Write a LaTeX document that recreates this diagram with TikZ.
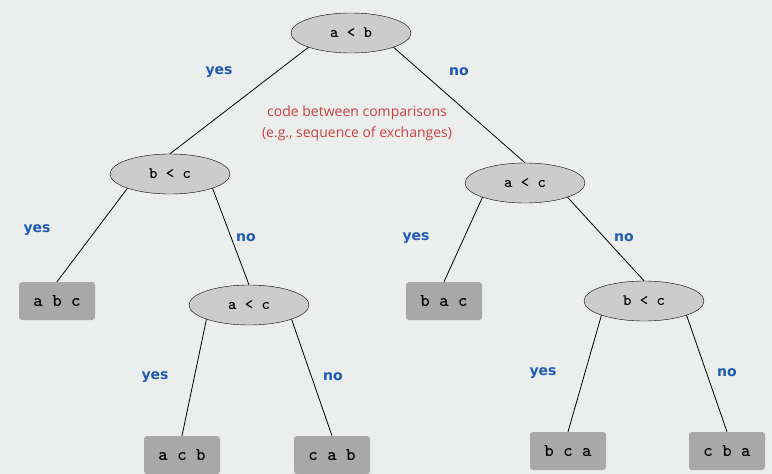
\documentclass[tikz,border=0pt]{standalone}
\usepackage{fontspec}
\newfontfamily\keyfont{lmmonolt10-bold.otf}
\newfontfamily\yesnofont{DejaVu Sans}
\newfontfamily\notefont{Open Sans}
\usepackage{tikz}
\usetikzlibrary{calc}
\usetikzlibrary{shapes.geometric}

\definecolor{bggray}{RGB}{236,238,238}
\definecolor{cmpgray}{RGB}{204,204,204}
\definecolor{leafgray}{RGB}{168,168,168}
\definecolor{ansblue}{RGB}{30,90,180}
\definecolor{notered}{RGB}{208,64,64}

\begin{document}
\begin{tikzpicture}[x=1pt,y=-1pt]
\tikzstyle{cmp} = [draw,ellipse,fill=cmpgray,minimum width=120pt,minimum height=40pt,inner sep=0pt,
                   font=\fontsize{16}{18}\keyfont]
\tikzstyle{leaf} = [rectangle,rounded corners=3pt,fill=leafgray,minimum width=76pt,minimum height=38pt,
                    inner sep=0pt,font=\fontsize{18}{18}\keyfont]
\tikzstyle{yes} = [color=ansblue,font=\fontsize{14}{16}\yesnofont\bfseries]
\tikzstyle{no} = [color=ansblue,font=\fontsize{14}{16}\yesnofont\bfseries]
\tikzstyle{edge} = [draw,line width=0.8pt]

\useasboundingbox[fill=bggray] (0,0) rectangle (772,474);

% comparisons
\draw(351,33) node[cmp]  (ab)   {a < b};
\draw(170,174) node[cmp] (bc)   {b < c};
\draw(525,183) node[cmp] (ac)   {a < c};
\draw(249,305) node[cmp] (bcac) {a < c};
\draw(644,301) node[cmp] (acbc) {b < c};

% results
\draw(57,301) node[leaf]  (abc) {a b c};
\draw(444,301) node[leaf] (bac) {b a c};
\draw(182,455) node[leaf] (acb) {a c b};
\draw(332,455) node[leaf] (cab) {c a b};
\draw(568,451) node[leaf] (bca) {b c a};
\draw(727,451) node[leaf] (cba) {c b a};

\draw[edge] (ab.south west) -- (bc.north);
\draw[edge] (ab.south east) -- (ac.north);
\draw[edge] (bc.south west) -- (abc.north);
\draw[edge] (bc.south east) -- (bcac.north);
\draw[edge] (bcac.south west) -- (acb.north);
\draw[edge] (bcac.south east) -- (cab.north);
\draw[edge] (ac.south west) -- (bac.north);
\draw[edge] (ac.south east) -- (acbc.north);
\draw[edge] (acbc.south west) -- (bca.north);
\draw[edge] (acbc.south east) -- (cba.north);

\draw(219,72) node[yes] (y1) {yes};
\draw(459,72) node[no]  (n1) {no};
\draw(37,230) node[yes] (y2) {yes};
\draw(246,238) node[no] (n2) {no};
\draw(416,238) node[yes] (y3) {yes};
\draw(624,238) node[no] (n3) {no};
\draw(155,377) node[yes] (y4) {yes};
\draw(333,377) node[no] (n4) {no};
\draw(543,373) node[yes] (y5) {yes};
\draw(727,373) node[no] (n5) {no};

\draw(357,123) node[color=notered,align=center,font=\fontsize{14}{21}\notefont] (note)
  {code between comparisons\\(e.g., sequence of exchanges)};
\end{tikzpicture}
\end{document}
